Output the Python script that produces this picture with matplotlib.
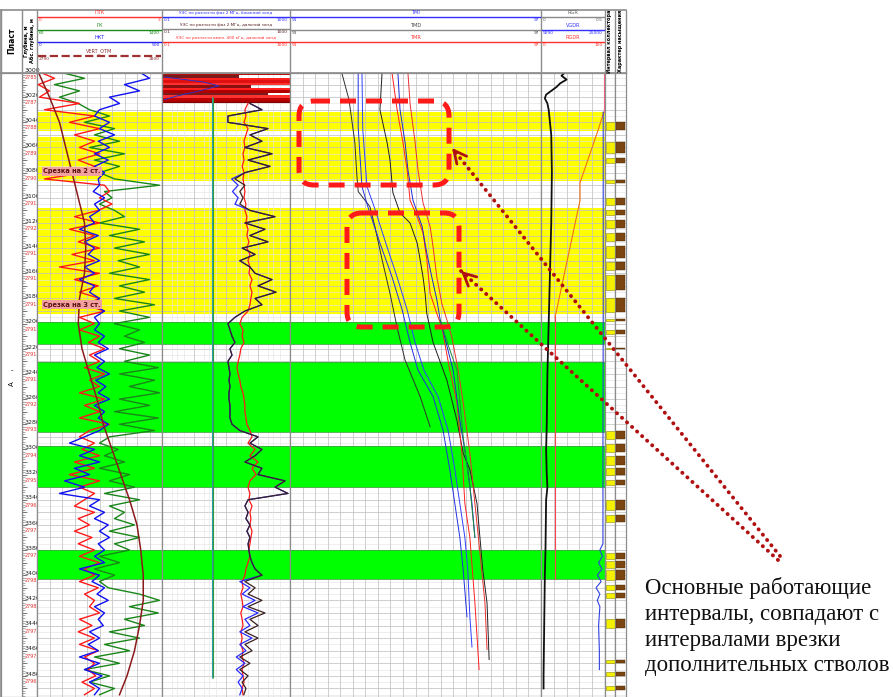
import matplotlib.pyplot as plt
import numpy as np
from matplotlib.patches import FancyBboxPatch, Rectangle

W, H = 893, 697
D_TOP, D_BOT = 3000.8, 3496.8
Y_HEAD, Y_TOP, Y_BOT = 10, 73, 697

# track edges, px
X_PLAST = (1, 22)
X_DEPTH = (22, 37)
X_T1 = (37, 162)
X_T2 = (162, 290)
X_T3 = (290, 541)
X_T4 = (541, 605)
X_T5 = (605, 615)
X_T6 = (615, 626)

# reservoir intervals (top, bottom, colour)
bands = [(3031.8, 3046.9, '#ffff00'), (3051.7, 3086.6, '#ffff00'), (3108.1, 3192.4, '#ffff00'),
         (3198.7, 3216.2, '#00ff00'), (3230.5, 3286.2, '#00ff00'), (3297.3, 3329.9, '#00ff00'),
         (3380.0, 3403.0, '#00ff00')]

# track 1, every 5 m from 3000 m (% of track width)
depth5 = np.arange(3000, 3500, 5)
gk = [18, 38, 14, 34, 18, 33, 42, 58, 38, 62,
      46, 66, 42, 70, 46, 66, 50, 62, 98, 54,
      60, 50, 62, 70, 50, 82, 58, 86, 62, 90,
      65, 82, 58, 90, 66, 86, 62, 94, 66, 90,
      62, 82, 70, 86, 66, 90, 70, 97, 66, 94,
      74, 98, 66, 90, 62, 97, 66, 94, 58, 50,
      65, 54, 70, 50, 74, 58, 78, 54, 82, 58,
      70, 62, 78, 58, 82, 62, 74, 50, 66, 46,
      62, 50, 57, 82, 98, 74, 97, 70, 86, 58,
      82, 54, 74, 46, 66, 38, 58, 42, 62, 50]
nkt = [82, 90, 70, 82, 58, 66, 50, 46, 58, 50,
       62, 49, 58, 46, 57, 46, 54, 49, 50, 45,
       54, 46, 50, 42, 46, 34, 49, 38, 46, 41,
       50, 38, 46, 34, 46, 42, 50, 44, 54, 46,
       50, 46, 54, 49, 57, 46, 54, 48, 58, 47,
       55, 49, 58, 46, 54, 49, 57, 50, 38, 26,
       46, 34, 50, 30, 42, 22, 38, 18, 50, 42,
       54, 46, 57, 50, 58, 49, 54, 46, 54, 34,
       50, 44, 54, 48, 57, 46, 54, 49, 53, 42,
       50, 41, 49, 34, 50, 38, 52, 42, 50, 46]
ptk = [2, 14, 1, 10, 2, 34, 6, 46, 26, 50,
       30, 46, 34, 50, 33, 46, 38, 6, 54, 58,
       50, 60, 49, 30, 50, 26, 46, 33, 50, 28,
       46, 18, 50, 30, 49, 34, 50, 38, 54, 34,
       46, 34, 50, 41, 54, 42, 50, 38, 54, 42,
       50, 34, 54, 38, 50, 34, 58, 42, 34, 46,
       36, 50, 30, 46, 26, 50, 34, 46, 38, 30,
       46, 33, 42, 30, 44, 33, 46, 34, 50, 38,
       46, 34, 49, 38, 46, 42, 50, 34, 44, 33,
       46, 34, 49, 38, 46, 41, 47, 36, 46, 38]
vert_depth = [3000, 3020, 3040, 3060, 3080, 3100, 3120, 3140, 3160, 3180, 3200, 3220, 3240,
              3260, 3280, 3300, 3320, 3340, 3360, 3380, 3400, 3420, 3440, 3460, 3480, 3495]
vert_otm = [1, 10, 18, 23, 28, 33, 38, 39, 38, 34, 33, 36, 42,
            48, 53, 60, 67, 74, 80, 83, 85, 85, 82, 78, 72, 66]

# track 2, resistivity, Ohm*m, every 5 m from 3025 m
depth_r = np.arange(3025, 3500, 5)
res_far = [56, 133, 11.5, 11.5, 205, 56, 133, 39, 274, 49, 237, 39, 19, 39, 27, 34, 27, 56, 340, 39,
           165, 56, 205, 32, 81, 27, 56, 81, 274, 100, 365, 81, 133, 39, 19, 11.5, 13.3, 15.4, 19, 13.3,
           15.4, 11.5, 12.4, 13.3, 12.4, 13.3, 12.4, 12.4, 13.3, 13.3, 13.3, 15.4, 27, 100, 56, 133, 81, 39, 133, 100,
           700, 340, 865, 49, 39, 49, 42, 56, 45, 56, 49, 52, 56, 65, 81, 133, 39, 81, 49, 133,
           49, 165, 56, 100, 39, 100, 39, 65, 27, 56, 27, 49, 32, 42, 36]
res_near = [56, 133, 11.5, 11.5, 205, 56, 133, 39, 274, 49, 237, 39, 15, 24, 16, 24, 19, 56, 340, 39,
            165, 56, 205, 32, 81, 27, 56, 81, 274, 100, 365, 81, 133, 39, 19, 11.5, 13.3, 15.4, 19, 13.3,
            15.4, 11.5, 12.4, 13.3, 12.4, 13.3, 12.4, 12.4, 13.3, 13.3, 13.3, 15.4, 27, 100, 56, 133, 81, 39, 133, 100,
            700, 340, 865, 49, 39, 49, 42, 56, 45, 56, 49, 52, 56, 65, 81, 133, 27, 56, 32, 81,
            34, 100, 39, 56, 27, 65, 27, 42, 21, 39, 21, 34, 24, 32, 27]
res_amp = [48.7, 39, 42, 36.5, 48.7, 42, 36.5, 39, 34, 36.5, 32, 36.5, 34, 36.5, 39, 36.5, 42, 39, 45, 42,
           48.7, 45, 52, 45, 56, 48.7, 56, 52, 65, 56, 65, 60, 56, 48.7, 32, 27, 34, 32, 36.5, 29,
           27, 24, 22, 24, 27, 29, 34, 36.5, 39, 39, 42, 45, 56, 65, 48.7, 81, 56, 100, 65, 87,
           56, 48.7, 56, 52, 65, 56, 60, 56, 65, 60, 56, 52, 56, 48.7, 42, 39, 32, 34, 29, 32,
           34, 29, 32, 34, 29, 32, 29, 34, 32, 36.5, 32, 34, 36.5, 32, 34]
# high-resistivity block at the top of the interval
blk_depth = [3001.5, 3003.5, 3005.5, 3007.5, 3009.5, 3011.5, 3013.5, 3015.5, 3017.5, 3019.5, 3021.5, 3023]
blk_value = [1000, 25, 1000, 1000, 1000, 60, 1000, 1000, 200, 1000, 1000, 1000]
blk_color = ['#c00000', '#7a1a1a', '#ff2020', '#e01010', '#ff3030', '#8a1010',
             '#ff2020', '#b00000', '#7a1a1a', '#ff3030', '#c00000', '#b00000']
ref_line = 3.9

# track 3, temperature, deg C
tm_curves = [
    ('#303030', [3001, 3022, 3056, 3083, 3095, 3107, 3123, 3149, 3176, 3203, 3229, 3241, 3258, 3282],
     [92.24, 92.41, 92.55, 92.60, 92.63, 92.91, 93.03, 93.20, 93.39, 93.56, 93.75, 93.90, 94.11, 94.35]),
    ('#2030e0', [3001, 3044, 3091, 3107, 3136, 3163, 3189, 3215, 3237, 3258, 3285, 3316, 3343, 3370, 3396, 3433],
     [92.63, 92.63, 92.72, 92.86, 93.15, 93.44, 93.68, 93.87, 94.06, 94.42, 94.66, 94.82, 94.94, 95.06, 95.14, 95.23]),
    ('#3040ff', [3001, 3046, 3091, 3107, 3136, 3163, 3189, 3215, 3237, 3258, 3285, 3316, 3343, 3370, 3396, 3433, 3457],
     [92.72, 92.74, 92.84, 93.01, 93.29, 93.56, 93.80, 93.99, 94.20, 94.54, 94.78, 94.94, 95.06, 95.18, 95.25, 95.30, 95.35]),
    ('#202020', [3001, 3030, 3056, 3070, 3096, 3112, 3120, 3136, 3149, 3163, 3176, 3192, 3215, 3245, 3277, 3303,
                 3316, 3343, 3370, 3396, 3422, 3467],
     [93.20, 93.15, 93.32, 93.39, 93.46, 93.63, 93.87, 94.04, 94.11, 94.18, 94.23, 94.27, 94.42, 94.75, 94.99,
      95.14, 95.30, 95.47, 95.54, 95.61, 95.71, 95.76]),
    ('#ff2020', [3001, 3030, 3056, 3078, 3102, 3115, 3128, 3149, 3176, 3192, 3203, 3237, 3263, 3303, 3343, 3370,
                 3422, 3475],
     [93.44, 93.56, 93.70, 93.80, 93.87, 94.04, 94.18, 94.27, 94.35, 94.51, 94.63, 94.82, 94.99, 95.11, 95.18,
      95.30, 95.42, 95.52]),
    ('#1a2ad0', [3001, 3030, 3056, 3078, 3102, 3123, 3144, 3163, 3181, 3197, 3237, 3277, 3311, 3343, 3370],
     [93.58, 93.63, 93.75, 93.82, 93.94, 94.16, 94.27, 94.39, 94.51, 94.59, 94.90, 95.06, 95.23, 95.35, 95.42]),
    ('#e83030', [3001, 3025, 3056, 3078, 3104, 3123, 3139, 3163, 3184, 3197, 3211, 3237, 3263, 3303, 3343, 3382,
                 3422, 3459],
     [93.82, 93.87, 93.99, 94.06, 94.18, 94.35, 94.42, 94.51, 94.63, 94.75, 94.87, 95.02, 95.14, 95.30, 95.42,
      95.54, 95.66, 95.71]),
    ('#1f8a3a', [3197, 3217, 3237, 3290, 3330, 3370],
     [94.59, 94.78, 94.99, 95.14, 95.30, 95.42]),
]

# track 4
rgr_depth = [3000, 3003, 3006, 3009, 3012, 3015, 3018, 3021, 3025, 3030, 3040, 3050, 3080, 3120, 3160,
             3200, 3240, 3280, 3300, 3320, 3330, 3340, 3380, 3400, 3440, 3480, 3490]
rgr = [0.19, 0.16, 0.2, 0.15, 0.12, 0.08, 0.04, 0.03, 0.05, 0.06, 0.07, 0.08, 0.085, 0.08, 0.07,
       0.06, 0.05, 0.045, 0.04, 0.045, 0.05, 0.04, 0.035, 0.03, 0.025, 0.02, 0.02]
rgdr_depth = [3001, 3032, 3045, 3088, 3102, 3195, 3403]
rgdr = [98, 98, 90, 61, 61, 22, 22]
vgdr_depth = [3032, 3100, 3200, 3300, 3375, 3380, 3385, 3390, 3395, 3400, 3405, 3410, 3415, 3420, 3425,
              3440, 3460, 3475]
vgdr = [24300, 24300, 24300, 24200, 24200, 23000, 24000, 22500, 23800, 22000, 23500, 21500, 23000, 22000,
        23000, 22500, 22800, 22800]

# tracks 5, 6: collector and saturation intervals
collector = [(3040, 3046), (3056, 3064), (3068, 3072), (3086, 3088), (3100, 3106), (3110, 3114), (3118, 3124),
             (3128, 3134), (3138, 3148), (3151, 3157), (3161, 3173), (3180, 3191), (3196, 3198), (3205, 3208),
             (3219, 3220), (3285, 3292), (3296, 3302), (3305, 3312), (3315, 3320), (3324, 3328), (3340, 3348),
             (3352, 3358), (3382, 3387), (3389, 3394), (3396, 3404), (3408, 3412), (3414, 3418), (3435, 3442),
             (3467, 3470), (3477, 3480), (3488, 3491)]
saturation = collector

depth_marks = np.arange(3000, 3481, 20)
abs_marks = ['2785.4', '2787.2', '2788.7', '2789.3', '2790.4', '2791.5', '2792', '2791.4', '2791.4',
             '2791.5', '2791.4', '2791.4', '2791.8', '2792.5', '2793.4', '2794.8', '2795.8', '2796.5',
             '2797.4', '2797.8', '2798', '2798.1', '2797.2', '2797.1', '2796.4']

GRID_MAJ = '#c2c2c2'
GRID_MIN = '#e4e4e4'
EDGE = '#8c8c8c'

fig = plt.figure(figsize=(W / 100, H / 100), dpi=100)


def rect(x0, x1, y0=Y_TOP, y1=Y_BOT):
    return [x0 / W, 1 - y1 / H, (x1 - x0) / W, (y1 - y0) / H]


def frame(ax):
    ax.set_xticks([])
    ax.set_yticks([])
    ax.minorticks_off()
    for s in ax.spines.values():
        s.set_color(EDGE)
        s.set_linewidth(0.9)


def track(xs, xlim, log=False, vmaj=None, vmin=None, with_bands=True):
    ax = fig.add_axes(rect(*xs))
    if log:
        ax.set_xscale('log')
    ax.set_xlim(*xlim)
    ax.set_ylim(D_BOT, D_TOP)
    frame(ax)
    if with_bands:
        for t, b, c in bands:
            z = 0 if c == '#ffff00' else 1.5
            ax.axhspan(t, b, color=c, lw=0, zorder=z)
            if c != '#ffff00':
                ax.hlines([t, b], *xlim, color='#3caa3c', lw=0.6, zorder=1.6)
    ax.hlines(np.arange(3005, 3500, 10), *xlim, color=GRID_MIN, lw=0.45, zorder=1)
    ax.hlines(np.arange(3000, 3500, 10), *xlim, color=GRID_MAJ, lw=0.55, zorder=1)
    if vmin is not None:
        ax.vlines(vmin, D_TOP, D_BOT, color=GRID_MIN, lw=0.45, zorder=1)
    if vmaj is not None:
        ax.vlines(vmaj, D_TOP, D_BOT, color=GRID_MAJ, lw=0.55, zorder=1)
    return ax


# depth column
axd = fig.add_axes(rect(*X_DEPTH))
axd.set_xlim(0, 1)
axd.set_ylim(D_BOT, D_TOP)
frame(axd)
axd.hlines(np.arange(3000, 3500, 2), 0, 0.18, color='#808080', lw=0.45)
axd.hlines(np.arange(3000, 3500, 10), 0, 0.3, color='#606060', lw=0.55)
for d, a in zip(depth_marks, abs_marks):
    axd.text(0.18, d - 1.4, str(d), fontsize=4.5, ha='left', va='center', color='#202020', clip_on=False)
    axd.text(0.18, d + 4.5, a, fontsize=3.5, ha='left', va='center', color='#e03030', clip_on=False)

# layer column
axp = fig.add_axes(rect(*X_PLAST))
axp.set_xlim(0, 1)
axp.set_ylim(D_BOT, D_TOP)
frame(axp)
axp.text(0.5, 3248, 'А', rotation=90, fontsize=5, ha='center', va='center')
axp.text(0.5, 3237, '-', fontsize=5, ha='center', va='center')

# track 1
ax1 = track(X_T1, (0, 100), vmaj=np.arange(10, 100, 10))
ax1.plot(gk, depth5, color='#1a861a', lw=1.0, zorder=3)
ax1.plot(ptk, depth5, color='#ff1a1a', lw=1.0, zorder=3)
ax1.plot(nkt, depth5, color='#1010f0', lw=1.0, zorder=3)
ax1.plot(vert_otm, vert_depth, color='#8b1a1a', lw=1.1, zorder=4)
for d, txt in [(3079, 'Срезка на 2 ст.'), (3185, 'Срезка на 3 ст.')]:
    ax1.text(5, d, txt, fontsize=4.8, fontweight='bold', color='#5a1010', va='center', ha='left', zorder=6,
             bbox=dict(boxstyle='square,pad=0.25', fc='#f2a0a0', ec='none'))

# track 2
decades = [1, 10, 100]
log_minor = [m * 10.0 ** e for e in range(-1, 3) for m in (2, 3, 5)]
ax2 = track(X_T2, (0.1, 1000), log=True, vmaj=decades, vmin=log_minor)
for d, v, c in zip(blk_depth, blk_value, blk_color):
    ax2.fill_betweenx([d - 1.0, d + 1.0], 0.1, v, color=c, lw=0, zorder=2)
ax2.hlines([3000.9, 3024.2], 0.1, 1000, color='#800000', lw=0.8, zorder=2)
ax2.plot([0.12, 0.5, 2, 6, 1.5, 0.3, 0.12], [3004, 3006, 3008, 3011, 3015, 3019, 3022], color='#3030c0',
         lw=0.7, zorder=3)
ax2.vlines([ref_line * 0.97, ref_line], 3020, 3482, color=['#2aa0b0', '#3a9a3a'], lw=0.8, zorder=3)
ax2.plot(res_amp, depth_r, color='#ff1a1a', lw=0.9, zorder=3)
ax2.plot(res_near, depth_r, color='#2a2aff', lw=0.9, zorder=3)
ax2.plot(res_far, depth_r, color='#3a2020', lw=0.9, zorder=3)

# track 3
ax3 = track(X_T3, (91, 97), vmaj=np.linspace(91, 97, 21)[1:-1])
for c, dd, vv in tm_curves:
    ax3.plot(vv, dd, color=c, lw=0.7, zorder=3)

# track 4
ax4 = track(X_T4, (0, 0.5), vmaj=np.linspace(0, 0.5, 6)[1:-1])
ax4.plot(rgr, rgr_depth, color='#101010', lw=1.3, zorder=3)
ax4r = ax4.twiny()
ax4r.set_xlim(0, 100)
ax4r.set_xticks([])
ax4r.plot(rgdr[:2], rgdr_depth[:2], color='#ff6080', lw=0.8)
ax4r.plot(rgdr[1:6], rgdr_depth[1:6], color='#f07018', lw=0.8)
ax4r.plot(rgdr[5:], rgdr_depth[5:], color='#ff4050', lw=0.8)
ax4v = ax4.twiny()
ax4v.set_xlim(0, 25000)
ax4v.set_xticks([])
ax4v.plot(vgdr, vgdr_depth, color='#3040e0', lw=0.8)
for a in (ax4r, ax4v):
    for s in a.spines.values():
        s.set_visible(False)

# tracks 5 and 6
ax5 = track(X_T5, (0, 1), with_bands=False)
for t, b in collector:
    ax5.add_patch(Rectangle((0.05, t), 0.9, b - t, fc='#f5f000', ec='#8a8a10', lw=0.4, zorder=3))
ax6 = track(X_T6, (0, 1), with_bands=False)
for t, b in saturation:
    ax6.add_patch(Rectangle((0.1, t), 0.8, b - t, fc='#7a4510', ec='#4a2a08', lw=0.3, zorder=3))

# header and annotations, pixel coordinates
ov = fig.add_axes([0, 0, 1, 1], zorder=10)
ov.set_xlim(0, W)
ov.set_ylim(H, 0)
ov.axis('off')

edges = [X_PLAST[0], X_DEPTH[0], X_T1[0], X_T2[0], X_T3[0], X_T4[0], X_T5[0], X_T6[0], X_T6[1]]
ov.plot([edges[0], edges[-1]], [Y_HEAD, Y_HEAD], color=EDGE, lw=1.2)
ov.plot([edges[0], edges[-1]], [Y_TOP, Y_TOP], color=EDGE, lw=1.2)
ov.vlines(edges, Y_HEAD, Y_TOP, color=EDGE, lw=1.0)
ov.plot([edges[0], edges[0]], [Y_HEAD, Y_BOT], color=EDGE, lw=1.2)

hdr = {
    X_T1: [(17, 'ПТК', '#ff3030', '0', '3', '-'), (30, 'ГК', '#1a8a1a', '60', '1400', '-'),
           (42, 'НКТ', '#2020f0', '0', '500', '-'), (56, 'VERT_OTM', '#8b3030', '2790', '2800', '--')],
    X_T2: [(17, 'УЭС по разности фаз 2 МГц, ближний зонд', '#3030ff', '0.1', '1000', '-'),
           (29, 'УЭС по разности фаз 2 МГц, дальний зонд', '#5a2020', '0.1', '1000', '-'),
           (42, 'УЭС по разности ампл. 400 кГц, дальний зонд', '#ff3030', '0.1', '1000', '-')],
    X_T3: [(17, 'TMI', '#3030ff', '91', '97', '-'), (30, 'TMD', '#404040', '91', '97', '-'),
           (42, 'TMR', '#ff3030', '91', '97', '-')],
    X_T4: [(17, 'RGR', '#606060', '0', '0.5', '-'), (30, 'VGDR', '#3030ff', '9290', '25000', '-'),
           (42, 'RGDR', '#ff3030', '0', '100', '-')],
}
for (x0, x1), rows in hdr.items():
    fs = 3.0 if (x0, x1) == X_T2 else 3.6
    for y, name, c, lo, hi, ls in rows:
        lw = 1.6 if ls == '--' else 1.0
        lc = '#a03030' if ls == '--' else ('#8a8a8a' if c in ('#404040', '#5a2020', '#606060') else c)
        ov.plot([x0 + 1, x1 - 1], [y, y], color=lc, lw=lw, ls=ls)
        ov.text((x0 + x1) / 2, y - 2.0, name, fontsize=fs, color=c, ha='center', va='bottom')
        ov.text(x0 + 2, y + 1.2, lo, fontsize=3.2, color=c, ha='left', va='top')
        ov.text(x1 - 2, y + 1.2, hi, fontsize=3.2, color=c, ha='right', va='top')

ov.text(11.5, 41, 'Пласт', rotation=90, fontsize=5.5, fontweight='bold', ha='center', va='center')
ov.text(29.5, 41, 'Глубина, м\nАбс. глубина, м', rotation=90, fontsize=3.6, fontweight='bold',
        ha='center', va='center', linespacing=1.2)
ov.text(610, 41, 'Интервал коллектора', rotation=90, fontsize=3.6, fontweight='bold', ha='center', va='center')
ov.text(620.5, 41, 'Характер насыщения', rotation=90, fontsize=3.6, fontweight='bold', ha='center', va='center')

box_kw = dict(fc='none', ec='#ff1a1a', lw=3.6, ls=(0, (3.2, 2.0)), zorder=11)
ov.add_patch(FancyBboxPatch((299, 101), 150, 84, boxstyle='round,pad=0,rounding_size=15', **box_kw))
ov.add_patch(FancyBboxPatch((347, 213), 112, 114, boxstyle='round,pad=0,rounding_size=15', **box_kw))

# dotted pointers with small open heads
pointers = [((452, 148), (780, 556)), ((461, 271), (778, 560))]
for tip, tail in pointers:
    ov.annotate('', xy=tip, xytext=tail,
                arrowprops=dict(arrowstyle='-', ls=(0, (0.05, 1.7)), lw=2.8, capstyle='round',
                                color='#b01010', shrinkA=0, shrinkB=0))
    ux, uy = tail[0] - tip[0], tail[1] - tip[1]
    n = np.hypot(ux, uy)
    ov.annotate('', xy=tip, xytext=(tip[0] + 4 * ux / n, tip[1] + 4 * uy / n),
                arrowprops=dict(arrowstyle='->,head_length=0.9,head_width=0.45', lw=2.0,
                                color='#b01010', shrinkA=0, shrinkB=0))

ov.text(645, 577, 'Основные работающие\nинтервалы, совпадают с\nинтервалами врезки\nдополнительных стволов',
        fontsize=16.5, family='Liberation Serif', ha='left', va='top', linespacing=1.3, color='#111111')

fig.savefig('out.png', dpi=100)
